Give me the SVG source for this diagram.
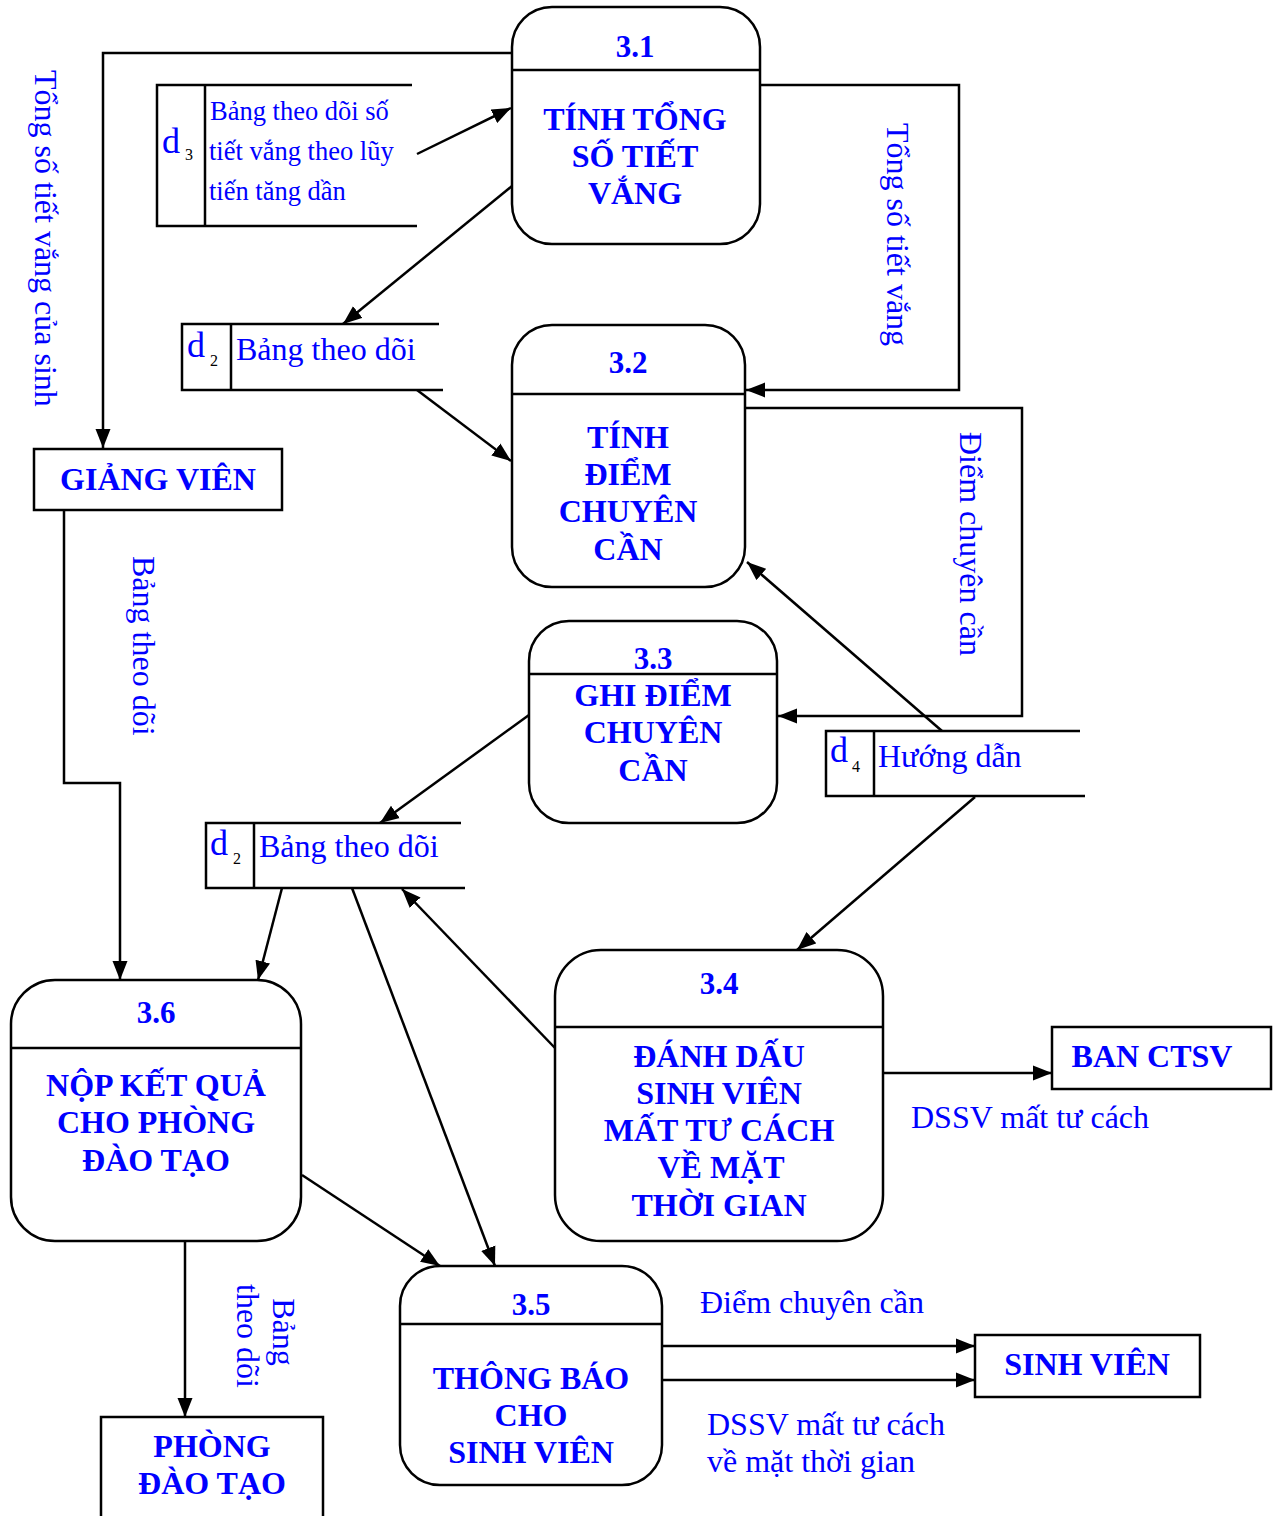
<svg xmlns="http://www.w3.org/2000/svg" width="1277" height="1516" viewBox="0 0 1277 1516">
  <style>
    .box { fill: #ffffff; stroke: #000000; stroke-width: 2.5; }
    .div { stroke: #000000; stroke-width: 2.5; fill: none; }
    .ttl { font-family: "Liberation Serif", "Times New Roman", serif; font-weight: bold; font-size: 31px; fill: #0000ff; text-anchor: middle; }
    .proc { font-family: "Liberation Serif", "Times New Roman", serif; font-weight: bold; font-size: 32px; fill: #0000ff; text-anchor: middle; }
    .lbl { font-family: "Liberation Serif", "Times New Roman", serif; font-size: 32px; fill: #0000ff; }
    .sm { font-family: "Liberation Serif", "Times New Roman", serif; font-size: 26.5px; fill: #0000ff; }
    .dd { font-family: "Liberation Serif", "Times New Roman", serif; font-size: 36px; fill: #0000ff; }
    .sub { font-family: "Liberation Serif", "Times New Roman", serif; font-size: 16px; fill: #000000; }
    .flow { fill: none; stroke: #000000; stroke-width: 2.5; marker-end: url(#arr); }
  </style>
  <defs>
    <marker id="arr" markerUnits="userSpaceOnUse" markerWidth="20" markerHeight="16" refX="19" refY="8" orient="auto">
      <path d="M0,0.5 L19,8 L0,15.5 z" fill="#000000"/>
    </marker>
  </defs>
  <rect width="1277" height="1516" fill="#ffffff"/>

  <!-- processes -->
  <g id="p31">
    <rect class="box" x="512" y="7" width="248" height="237" rx="40"/>
    <line class="div" x1="512" y1="70" x2="760" y2="70"/>
    <text class="ttl" x="635" y="57">3.1</text>
    <text class="proc" x="635" y="130">TÍNH TỔNG</text>
    <text class="proc" x="635" y="167">SỐ TIẾT</text>
    <text class="proc" x="635" y="204">VẮNG</text>
  </g>
  <g id="p32">
    <rect class="box" x="512" y="325" width="233" height="262" rx="40"/>
    <line class="div" x1="512" y1="394" x2="745" y2="394"/>
    <text class="ttl" x="628" y="373">3.2</text>
    <text class="proc" x="628" y="448">TÍNH</text>
    <text class="proc" x="628" y="485">ĐIỂM</text>
    <text class="proc" x="628" y="522">CHUYÊN</text>
    <text class="proc" x="628" y="560">CẦN</text>
  </g>
  <g id="p33">
    <rect class="box" x="529" y="621" width="248" height="202" rx="40"/>
    <line class="div" x1="529" y1="674" x2="777" y2="674"/>
    <text class="ttl" x="653" y="669">3.3</text>
    <text class="proc" x="653" y="706">GHI ĐIỂM</text>
    <text class="proc" x="653" y="743">CHUYÊN</text>
    <text class="proc" x="653" y="781">CẦN</text>
  </g>
  <g id="p34">
    <rect class="box" x="555" y="950" width="328" height="291" rx="46"/>
    <line class="div" x1="555" y1="1027" x2="883" y2="1027"/>
    <text class="ttl" x="719" y="994">3.4</text>
    <text class="proc" x="719" y="1067">ĐÁNH DẤU</text>
    <text class="proc" x="719" y="1104">SINH VIÊN</text>
    <text class="proc" x="719" y="1141">MẤT TƯ CÁCH</text>
    <text class="proc" x="721" y="1178">VỀ MẶT</text>
    <text class="proc" x="719" y="1216">THỜI GIAN</text>
  </g>
  <g id="p35">
    <rect class="box" x="400" y="1266" width="262" height="219" rx="40"/>
    <line class="div" x1="400" y1="1324" x2="662" y2="1324"/>
    <text class="ttl" x="531" y="1315">3.5</text>
    <text class="proc" x="531" y="1389">THÔNG BÁO</text>
    <text class="proc" x="531" y="1426">CHO</text>
    <text class="proc" x="531" y="1463">SINH VIÊN</text>
  </g>
  <g id="p36">
    <rect class="box" x="11" y="980" width="290" height="261" rx="44"/>
    <line class="div" x1="11" y1="1048" x2="301" y2="1048"/>
    <text class="ttl" x="156" y="1023">3.6</text>
    <text class="proc" x="156" y="1096">NỘP KẾT QUẢ</text>
    <text class="proc" x="156" y="1133">CHO PHÒNG</text>
    <text class="proc" x="156" y="1171">ĐÀO TẠO</text>
  </g>

  <!-- external entities -->
  <g id="giang-vien">
    <rect class="box" x="34" y="449" width="248" height="61"/>
    <text class="proc" x="158" y="490">GIẢNG VIÊN</text>
  </g>
  <g id="ban-ctsv">
    <rect class="box" x="1052" y="1027" width="219" height="62"/>
    <text class="proc" x="1152" y="1067">BAN CTSV</text>
  </g>
  <g id="sinh-vien">
    <rect class="box" x="975" y="1335" width="225" height="62"/>
    <text class="proc" x="1087" y="1375">SINH VIÊN</text>
  </g>
  <g id="phong-dao-tao">
    <rect class="box" x="101" y="1417" width="222" height="120"/>
    <text class="proc" x="212" y="1457">PHÒNG</text>
    <text class="proc" x="212" y="1494">ĐÀO TẠO</text>
  </g>

  <!-- data stores -->
  <g id="d3">
    <path class="div" d="M412,85 H157 V226 H417 M205,85 V226"/>
    <text class="dd" x="162" y="153">d</text>
    <text class="sub" x="185" y="160">3</text>
    <text class="sm" x="210" y="120">Bảng theo dõi số</text>
    <text class="sm" x="209" y="160">tiết vắng theo lũy</text>
    <text class="sm" x="209" y="200">tiến tăng dần</text>
  </g>
  <g id="d2-upper">
    <path class="div" d="M439,324 H182 V390 H443 M231,324 V390"/>
    <text class="dd" x="187" y="357">d</text>
    <text class="sub" x="210" y="366">2</text>
    <text class="lbl" x="236" y="360">Bảng theo dõi</text>
  </g>
  <g id="d4">
    <path class="div" d="M1080,731 H826 V796 H1085 M874,731 V796"/>
    <text class="dd" x="830" y="762">d</text>
    <text class="sub" x="852" y="772">4</text>
    <text class="lbl" x="878" y="767">Hướng dẫn</text>
  </g>
  <g id="d2-lower">
    <path class="div" d="M461,823 H206 V888 H465 M254,823 V888"/>
    <text class="dd" x="210" y="855">d</text>
    <text class="sub" x="233" y="864">2</text>
    <text class="lbl" x="259" y="857">Bảng theo dõi</text>
  </g>

  <!-- data flows -->
  <g id="connectors">
    <polyline class="flow" points="512,53 103,53 103,448"/>
    <line class="flow" x1="417" y1="154" x2="511" y2="108"/>
    <line class="flow" x1="512" y1="186" x2="343" y2="324"/>
    <polyline class="flow" points="760,85 959,85 959,390 746,390"/>
    <line class="flow" x1="417" y1="390" x2="511" y2="461"/>
    <polyline class="flow" points="745,408 1022,408 1022,716 778,716"/>
    <line class="flow" x1="942" y1="731" x2="747" y2="562"/>
    <line class="flow" x1="529" y1="715" x2="380" y2="823"/>
    <polyline class="flow" points="64,510 64,783 120,783 120,980"/>
    <line class="flow" x1="282" y1="888" x2="258" y2="980"/>
    <line class="flow" x1="352" y1="888" x2="495" y2="1266"/>
    <line class="flow" x1="555" y1="1048" x2="402" y2="889"/>
    <line class="flow" x1="975" y1="797" x2="797" y2="950"/>
    <line class="flow" x1="883" y1="1073" x2="1052" y2="1073"/>
    <line class="flow" x1="302" y1="1175" x2="440" y2="1266"/>
    <line class="flow" x1="185" y1="1241" x2="185" y2="1417"/>
    <line class="flow" x1="662" y1="1346" x2="975" y2="1346"/>
    <line class="flow" x1="662" y1="1380" x2="975" y2="1380"/>
  </g>

  <!-- flow labels -->
  <g id="flow-labels">
    <text class="lbl" transform="translate(35,70) rotate(90)">Tổng số tiết vắng của sinh</text>
    <text class="lbl" transform="translate(887,123) rotate(90)">Tổng số tiết vắng</text>
    <text class="lbl" transform="translate(960,432) rotate(90)">Điểm chuyên cần</text>
    <text class="lbl" transform="translate(133,556) rotate(90)">Bảng theo dõi</text>
    <text class="lbl" text-anchor="middle" transform="translate(273,1332) rotate(90)">Bảng</text>
    <text class="lbl" text-anchor="middle" transform="translate(237,1336) rotate(90)">theo dõi</text>
    <text class="lbl" x="911" y="1128">DSSV mất tư cách</text>
    <text class="lbl" x="700" y="1313">Điểm chuyên cần</text>
    <text class="lbl" x="707" y="1435">DSSV mất tư cách</text>
    <text class="lbl" x="707" y="1472">về mặt thời gian</text>
  </g>
</svg>
